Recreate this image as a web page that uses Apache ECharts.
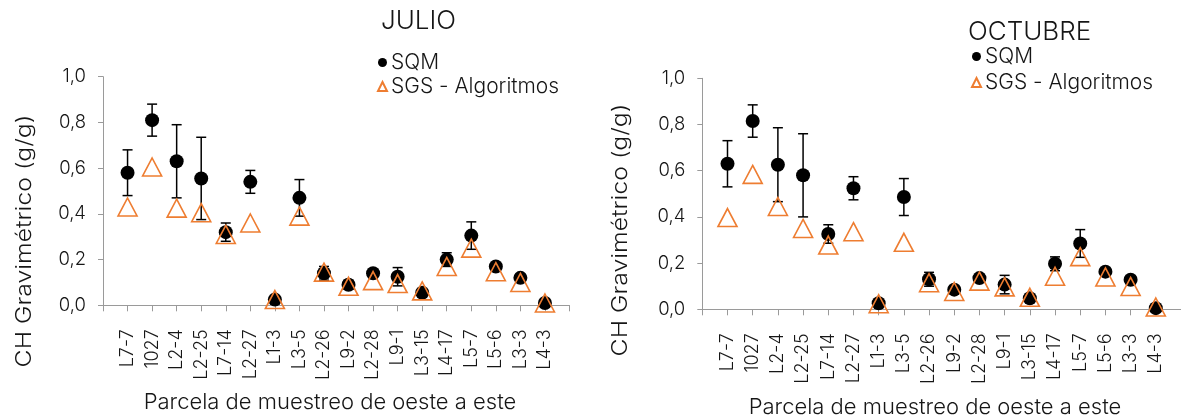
<!DOCTYPE html>
<html>
<head>
<meta charset="utf-8">
<script src="https://cdn.jsdelivr.net/npm/echarts@6/dist/echarts.min.js"></script>
<style>
  html, body { margin: 0; padding: 0; background: #fff; }
  #chart { width: 1181px; height: 420px; }
</style>
</head>
<body>
<div id="chart"></div>
<script>
// Sampling plots, west to east
const parcelas = ['L7-7', '1027', 'L2-4', 'L2-25', 'L7-14', 'L2-27', 'L1-3', 'L3-5', 'L2-26',
  'L9-2', 'L2-28', 'L9-1', 'L3-15', 'L4-17', 'L5-7', 'L5-6', 'L3-3', 'L4-3'];

// Y axis ticks (g/g)
const yTicks = [0, 0.2, 0.4, 0.6, 0.8, 1.0];

// July campaign
const sqmJulio = [0.58, 0.81, 0.63, 0.555, 0.32, 0.54, 0.025, 0.47, 0.14, 0.09, 0.14, 0.125, 0.055, 0.20, 0.305, 0.17, 0.12, 0.01];
const sqmJulioErr = [0.10, 0.07, 0.16, 0.18, 0.04, 0.05, 0.01, 0.08, 0.03, 0.02, 0.015, 0.04, 0.015, 0.03, 0.06, 0.01, 0.015, 0.01];
const sgsJulio = [0.43, 0.605, 0.425, 0.405, 0.31, 0.36, 0.025, 0.39, 0.145, 0.083, 0.108, 0.095, 0.063, 0.17, 0.25, 0.147, 0.10, 0.01];

// October campaign
const sqmOctubre = [0.63, 0.815, 0.626, 0.58, 0.326, 0.524, 0.026, 0.486, 0.13, 0.085, 0.135, 0.107, 0.048, 0.197, 0.285, 0.163, 0.128, 0.005];
const sqmOctubreErr = [0.10, 0.07, 0.16, 0.18, 0.04, 0.05, 0.01, 0.08, 0.03, 0.015, 0.015, 0.04, 0.015, 0.03, 0.06, 0.01, 0.015, 0.005];
const sgsOctubre = [0.397, 0.584, 0.445, 0.35, 0.278, 0.336, 0.024, 0.29, 0.115, 0.077, 0.122, 0.097, 0.052, 0.143, 0.228, 0.14, 0.099, 0.01];

const FONT = 'Inter, "Liberation Sans", Arial, sans-serif';
const INK = '#161616';
const ORANGE = '#EE7D31';
const AXIS_GREY = '#9a9a9a';

const toPoints = vals => vals.map((v, i) => [i + 1, v]);

function xAxisFor(gridIndex) {
  return {
    type: 'value', gridIndex, min: 0, max: parcelas.length + 1, interval: 1,
    splitLine: { show: false },
    axisLine: { lineStyle: { color: AXIS_GREY, width: 1 } },
    axisTick: { length: 6, lineStyle: { color: AXIS_GREY } },
    axisLabel: {
      rotate: 90, margin: 24, fontSize: 18, color: INK, fontFamily: FONT, fontWeight: 300,
      formatter: v => parcelas[v - 1] || ''
    }
  };
}

function yAxisFor(gridIndex) {
  return {
    type: 'value', gridIndex, min: yTicks[0], max: yTicks[yTicks.length - 1], interval: 0.2,
    splitLine: { show: false },
    axisLine: { show: true, lineStyle: { color: AXIS_GREY, width: 1 } },
    axisTick: { show: true, length: 5, lineStyle: { color: AXIS_GREY } },
    axisLabel: {
      margin: 17, fontSize: 18.5, color: INK, fontFamily: FONT, fontWeight: 300,
      formatter: v => v.toFixed(1).replace('.', ',')
    }
  };
}

// Vertical error bars with caps
function errorBars(axisIndex, values, errors) {
  return {
    type: 'custom', xAxisIndex: axisIndex, yAxisIndex: axisIndex, z: 2, silent: true,
    data: values.map((v, i) => [i + 1, v - errors[i], v + errors[i]]),
    renderItem(params, api) {
      const x = api.value(0);
      const lo = api.coord([x, api.value(1)]);
      const hi = api.coord([x, api.value(2)]);
      const cap = 5;
      const style = { stroke: '#000', lineWidth: 1.5 };
      return {
        type: 'group',
        children: [
          { type: 'line', shape: { x1: hi[0], y1: hi[1], x2: lo[0], y2: lo[1] }, style },
          { type: 'line', shape: { x1: hi[0] - cap, y1: hi[1], x2: hi[0] + cap, y2: hi[1] }, style },
          { type: 'line', shape: { x1: lo[0] - cap, y1: lo[1], x2: lo[0] + cap, y2: lo[1] }, style }
        ]
      };
    }
  };
}

function sqmSeries(axisIndex, values) {
  return {
    name: 'SQM', type: 'scatter', xAxisIndex: axisIndex, yAxisIndex: axisIndex, z: 3,
    symbol: 'circle', symbolSize: 14,
    itemStyle: { color: '#000', opacity: 1 },
    data: toPoints(values)
  };
}

function sgsSeries(axisIndex, values) {
  return {
    name: 'SGS - Algoritmos', type: 'scatter', xAxisIndex: axisIndex, yAxisIndex: axisIndex, z: 4,
    symbol: 'triangle', symbolSize: [19, 18],
    itemStyle: { color: 'rgba(0,0,0,0)', borderColor: ORANGE, borderWidth: 1.6, opacity: 1 },
    data: toPoints(values)
  };
}

function legendAt(left, top, gap) {
  return {
    left, top, padding: 0, orient: 'vertical', itemGap: gap, itemWidth: 9, itemHeight: 9,
    selectedMode: false,
    textStyle: { fontSize: 21, color: INK, fontFamily: FONT, fontWeight: 300, padding: [0, 0, 0, -1] },
    data: ['SQM', 'SGS - Algoritmos']
  };
}

function axisTitle(text, x, y, rotated, size, stretch) {
  return {
    type: 'text', x, y, rotation: rotated ? Math.PI / 2 : 0, scaleX: stretch, silent: true,
    style: {
      text, fill: INK, font: `300 ${size}px ${FONT}`, align: 'center', verticalAlign: 'middle'
    }
  };
}

const chart = echarts.init(document.getElementById('chart'), null, { renderer: 'canvas' });
chart.setOption({
  animation: false,
  backgroundColor: '#fff',
  title: [
    { text: 'JULIO', left: 381, top: 8, padding: 0, textStyle: { fontSize: 26, fontWeight: 300, color: INK, fontFamily: FONT } },
    { text: 'OCTUBRE', left: 968, top: 19, padding: 0, textStyle: { fontSize: 26, fontWeight: 300, color: INK, fontFamily: FONT } }
  ],
  legend: [legendAt(377, 52, 3), legendAt(971, 46, 5)],
  grid: [
    { left: 103, top: 76.7, width: 466.5, height: 228.6 },
    { left: 702.3, top: 78.3, width: 481.7, height: 231 }
  ],
  xAxis: [xAxisFor(0), xAxisFor(1)],
  yAxis: [yAxisFor(0), yAxisFor(1)],
  graphic: [
    axisTitle('CH Gravimétrico (g/g)', 25, 241, true, 21, 1.18),
    axisTitle('Parcela de muestreo de oeste a este', 330, 402, false, 22, 1.0),
    axisTitle('CH Gravimétrico (g/g)', 621, 230, true, 21, 1.18),
    axisTitle('Parcela de muestreo de oeste a este', 935, 407, false, 22, 1.0)
  ],
  series: [
    errorBars(0, sqmJulio, sqmJulioErr),
    sqmSeries(0, sqmJulio),
    sgsSeries(0, sgsJulio),
    errorBars(1, sqmOctubre, sqmOctubreErr),
    sqmSeries(1, sqmOctubre),
    sgsSeries(1, sgsOctubre)
  ]
});
</script>
</body>
</html>
